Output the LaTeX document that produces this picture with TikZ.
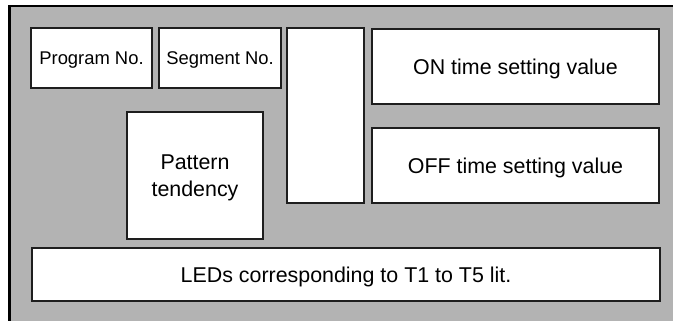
\documentclass[tikz,border=0pt]{standalone}
\usepackage{fontspec}
\setmainfont{Liberation Sans}
\definecolor{panelgray}{RGB}{179,179,179}
\definecolor{edge}{RGB}{30,30,30}
\begin{document}
\begin{tikzpicture}[x=1pt,y=-1pt,
  box/.style={draw=edge, line width=1.2pt, fill=white, inner sep=0pt, align=center, text depth=0pt},
  smalltext/.style={font=\fontsize{18.4}{21}\selectfont},
  bigtext/.style={font=\fontsize{21.4}{27.5}\selectfont}]
\useasboundingbox (0,0) rectangle (673,321);
\fill[panelgray] (9.5,6) rectangle (673,321);
\draw[line width=2.5pt, line cap=rect] (9.5,321) -- (9.5,6) -- (673,6);
\node[box, smalltext, minimum width=121pt, minimum height=60pt] (prog) at (91.5,58) {Program No.};
\node[box, smalltext, minimum width=122pt, minimum height=60pt] (seg) at (220,58) {Segment No.};
\node[box, minimum width=77pt, minimum height=175pt] (blank) at (325.5,115.5) {};
\node[box, bigtext, minimum width=287pt, minimum height=75pt] (on) at (515.5,66.5) {ON time setting value};
\node[box, bigtext, minimum width=287pt, minimum height=75pt] (off) at (515.5,165.5) {OFF time setting value};
\node[box, bigtext, minimum width=136pt, minimum height=127pt] (pattern) at (195,175.5) {Pattern\\tendency};
\node[box, bigtext, minimum width=628pt, minimum height=53pt] (leds) at (346,274.5) {LEDs corresponding to T1 to T5 lit.};
\end{tikzpicture}
\end{document}
